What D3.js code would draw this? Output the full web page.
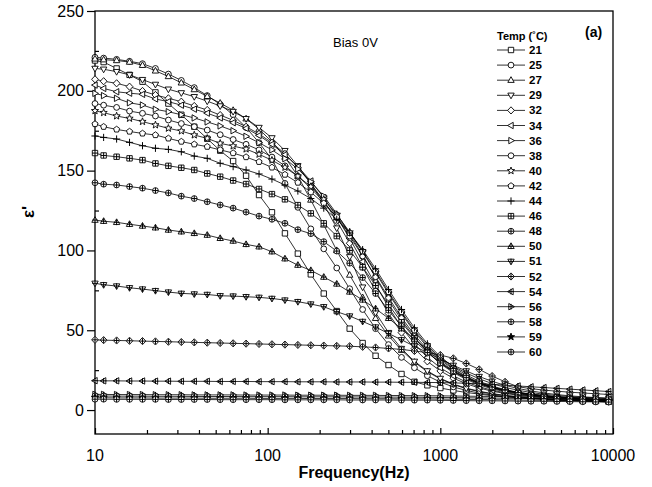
<!DOCTYPE html>
<html><head><meta charset="utf-8">
<script src="https://cdn.jsdelivr.net/npm/d3@7"></script>
<style>body{margin:0;background:#fff}svg{display:block}</style>
</head><body>
<svg id="c" width="652" height="487"></svg>
<script>
const freqs = [10, 11.22, 13.34, 15.85, 18.84, 22.39, 26.61, 31.62, 37.58, 44.67, 53.09, 63.10, 74.99, 89.13, 105.9, 125.9, 149.6, 177.8, 211.3, 251.2, 298.5, 354.8, 421.7, 501.2, 595.7, 707.9, 841.4, 1000, 1189, 1413, 1679, 1995, 2371, 2818, 3350, 3981, 4732, 5623, 6683, 7943, 9441];
const temps = ["21","25","27","29","32","34","36","38","40","42","44","46","48","50","51","52","54","56","58","59","60"];
const t21 = [219,218,214,210,205.7,199,192,185,177.5,170,162.5,156,146.8,134.7,123.9,110.7,98,85,73,62,51,42,34,28.2,22.6,17.7,15.5,13.8,12.3,11,10,9,8.3,7.7,7.2,6.8,6.4,6.1,5.8,5.5,5.2];
const t25 = [221,220.5,219.7,218.5,217,214,210.5,206.5,202,197,191.5,185,177,167.5,157,142,127,113.5,101,89,76,63,51,41,33,26.5,21.5,17.5,14.5,12.3,10.6,9.4,8.5,7.8,7.2,6.7,6.3,6,5.7,5.4,5.1];
const t27 = [220,219.5,219,218,216,212.5,209,205,200.8,196.5,192.3,187.8,182.5,176,168,158.5,146.5,131.6,116,100,84.6,70.5,57.5,46.5,37.5,30,24,19.5,16,13.4,11.5,10.1,9,8.2,7.5,7,6.5,6.1,5.8,5.5,5.2];
const t29 = [214,213.5,212,210,207,204,201,198.7,196.3,193.5,190.5,187,182.5,177,170.5,162.5,153,142,129,114,96,77,61,48.5,38.5,30.5,24.5,19.8,16.3,13.7,11.8,10.3,9.2,8.4,7.7,7.2,6.7,6.3,6,5.7,5.4];
const t32 = [207.2,206,204.7,202.6,199.9,197.4,195.3,193.2,190.5,188,184.8,181.5,177.5,173,167.5,160.5,152,142,131,118.5,104.5,89.5,74.5,60.5,48.5,38.5,30.5,24.5,20,16.5,13.8,11.8,10.4,9.3,8.5,7.8,7.3,6.8,6.4,6.1,5.8];
const t34 = [203.6,201.5,199.4,198.5,197.8,194.9,193.2,191,188.5,186,183,180,176.5,172,166.5,160,152.5,143.5,133,121,107.5,93,78.5,64.5,52,41.5,33,26.5,21.5,17.5,14.6,12.4,10.9,9.7,8.8,8.1,7.5,7,6.6,6.2,5.9];
const t36 = [198.4,197,195.3,192.5,191.1,188.4,186.9,185,183,180.5,178,175,171.5,167.5,163,157.5,151,143,134,123,110.5,97,83,69,56.5,45.5,36.5,29,23.5,19.2,15.8,13.3,11.5,10.2,9.1,8.3,7.7,7.2,6.7,6.3,6];
const t38 = [192,191,189.6,187.3,185.9,184.2,181.7,179.5,177.5,175.4,172.5,169.5,166.5,163,158.5,153,146.5,139,130.5,120.5,109,96.5,83.5,70.5,58,47,38,30.5,24.5,20,16.5,13.8,11.9,10.5,9.4,8.6,7.9,7.3,6.8,6.4,6];
const t40 = [187.5,186.3,184.2,182.7,180.7,178.6,176.5,174.8,172.3,170.2,167.1,165.4,163.5,160.2,156.5,152,146.5,140,132,122.5,111.5,99,86,73,60.5,49,39.5,31.5,25.5,20.5,17,14.2,12.2,10.7,9.6,8.7,8,7.4,6.9,6.5,6.1];
const t42 = [179.2,177.5,175.8,174.5,173.3,172.3,170.2,168.2,166.5,165,163,161,158.5,155.5,152,147.5,142.5,136.5,129.5,121,111,99.5,87,74,61.5,50,40.5,32.5,26,21,17.3,14.5,12.4,10.9,9.8,8.9,8.2,7.6,7.1,6.6,6.2];
const t44 = [171.7,170.8,169.8,167.7,165.6,164,163.3,161.8,159.1,157.7,154.6,152.5,150.4,147.9,144.7,141,137.2,132.5,126.5,119.5,111,100.5,88.5,75.5,63,51.5,41.5,33.5,27,22,18,15,12.8,11.2,10,9.1,8.4,7.8,7.3,6.8,6.4];
const t46 = [161,159.5,158.7,157.7,156.6,154.5,153,151.8,150.4,148.2,146.2,143.8,141.6,138.5,135.3,132,128.4,123.2,117,109,100,89.5,78,66,55,45,36.5,29.5,24,19.8,16.5,14,12.2,10.8,9.7,8.9,8.2,7.6,7.1,6.7,6.3];
const t48 = [142.4,141.5,141,140,139,137.5,136,134,132.5,130.5,128.5,126.5,124,121.5,119.5,117,113,110.5,105.5,99.6,92,83,73,62.5,52.5,43.5,36,29.5,24.5,20.3,17,14.4,12.5,11,9.9,9,8.3,7.7,7.2,6.8,6.4];
const t50 = [119,118.3,117.6,116.4,115.3,114.2,112.8,111.7,110.7,109.6,107.6,105.9,103.8,102.3,99.2,94.8,90.8,87.5,83.3,79,74,69,63.5,57.5,51,44.5,38,32.5,27.5,23.2,19.6,16.6,14.2,12.4,11,9.9,9.1,8.4,7.9,7.5,7.1];
const t51 = [79.4,78.5,77.7,76.6,75.8,74.8,73.9,73.1,72.7,72.4,71.6,71.4,71,70.6,69.9,68.9,67.9,66.4,64.7,61.6,58.9,55.5,52,48,44,40,36,32,28,24.5,21,18,15.5,13.5,12,10.7,9.7,8.9,8.3,7.8,7.3];
const t52 = [44,43.8,43.6,43.4,43.2,43,42.8,42.6,42.4,42.2,42,41.8,41.6,41.4,41.2,41,40.8,40.6,40.4,40.2,40,39.6,39.2,38.6,38,37,36,34.5,32.4,29.2,25.5,21.3,17.7,14.6,13.4,12.5,11.8,11.2,10.7,10.2,9.8];
const t54 = [18.4,18.3,18.3,18.2,18.2,18.1,18.1,18,18,18,17.9,17.9,17.9,17.8,17.8,17.8,17.7,17.7,17.7,17.6,17.6,17.6,17.5,17.5,17.4,17.4,17.3,17.2,17,16.8,16.5,16.1,15.6,15.1,14.6,14.1,13.6,13.1,12.6,12.1,11.6];
const t56 = [9.8,9.8,9.7,9.7,9.7,9.6,9.6,9.6,9.5,9.5,9.5,9.5,9.4,9.4,9.4,9.4,9.3,9.3,9.3,9.3,9.2,9.2,9.2,9.1,9.1,9.0,9.0,8.9,8.8,8.7,8.6,8.5,8.4,8.3,8.2,8.1,7.9,7.8,7.7,7.6,7.5];
const t58 = [8.8,8.8,8.7,8.7,8.7,8.6,8.6,8.6,8.5,8.5,8.5,8.5,8.4,8.4,8.4,8.4,8.3,8.3,8.3,8.3,8.2,8.2,8.2,8.1,8.1,8.0,8.0,7.9,7.8,7.7,7.6,7.5,7.4,7.3,7.2,7.1,7.0,6.9,6.8,6.7,6.6];
const t59 = [7.7,7.7,7.6,7.6,7.6,7.5,7.5,7.5,7.5,7.4,7.4,7.4,7.4,7.3,7.3,7.3,7.3,7.2,7.2,7.2,7.2,7.1,7.1,7.1,7.0,7.0,7.0,6.9,6.8,6.7,6.6,6.5,6.4,6.3,6.2,6.1,6.0,5.9,5.8,5.7,5.6];
const t60 = [6.8,6.8,6.7,6.7,6.7,6.7,6.6,6.6,6.6,6.6,6.5,6.5,6.5,6.5,6.5,6.4,6.4,6.4,6.4,6.4,6.3,6.3,6.3,6.3,6.2,6.2,6.2,6.1,6.0,5.9,5.8,5.8,5.7,5.6,5.5,5.5,5.4,5.3,5.2,5.1,5.0];
const seriesValues = [t21,t25,t27,t29,t32,t34,t36,t38,t40,t42,t44,t46,t48,t50,t51,t52,t54,t56,t58,t59,t60];
const markerTypes = ["square","circle","triUp","triDown","diamond","triLeft","triRight","circle","star","pentagon","plus","squarePlus","circlePlus","triUpPlus","triDownPlus","diamondPlus","triLeftPlus","triRightPlus","circlePlus","starFilled","circlePlus"];
const xTickLabels = [10, 100, 1000, 10000];
const yTickLabels = [0, 50, 100, 150, 200, 250];

const svg = d3.select("#c");
const FONT = "'Liberation Sans', Arial, Helvetica, sans-serif";
const x = d3.scaleLog().domain([10, 10000]).range([95, 613]);
const y = d3.scaleLinear().domain([-15, 250]).range([434, 11]);

// frame
svg.append("rect").attr("x",95).attr("y",11).attr("width",518).attr("height",423)
  .attr("fill","none").attr("stroke","#000").attr("stroke-width",1.3);

// x axis (ticks pointing inward)
const xMinor = [];
[10,100,1000].forEach(d=>{for(let k=2;k<=9;k++) xMinor.push(d*k);});
const gx = svg.append("g").attr("transform","translate(0,434)");
gx.append("g").call(d3.axisTop(x).tickValues(xTickLabels).tickSize(6).tickFormat(""))
  .call(g=>g.select(".domain").remove());
gx.append("g").call(d3.axisTop(x).tickValues(xMinor).tickSize(4).tickFormat(""))
  .call(g=>g.select(".domain").remove());
gx.selectAll("line").attr("stroke","#000").attr("stroke-width",1.2);
gx.append("g").selectAll("text").data(xTickLabels).join("text")
  .attr("x",d=>x(d)).attr("y",27).attr("text-anchor","middle").attr("fill","#000")
  .attr("font-family",FONT).attr("font-size",16).text(d=>d);

// y axis: major outward, minor inward
const gy = svg.append("g").attr("transform","translate(95,0)");
gy.append("g").call(d3.axisLeft(y).tickValues(yTickLabels).tickSize(8).tickPadding(3).tickFormat(d3.format("d")))
  .call(g=>g.select(".domain").remove());
gy.selectAll("text").attr("font-family",FONT).attr("font-size",16).attr("fill","#000");
gy.append("g").call(d3.axisRight(y).tickValues([25,75,125,175,225]).tickSize(4).tickFormat(""))
  .call(g=>g.select(".domain").remove());
gy.selectAll("line").attr("stroke","#000").attr("stroke-width",1.2);

// axis titles
svg.append("text").attr("x",354).attr("y",478).attr("text-anchor","middle").attr("fill","#000")
  .attr("font-family",FONT).attr("font-weight","bold").attr("font-size",16).text("Frequency(Hz)");
svg.append("text").attr("transform","translate(34,212) rotate(-90)").attr("text-anchor","middle").attr("fill","#000")
  .attr("font-family",FONT).attr("font-weight","bold").attr("font-size",17).text("ε'");

svg.append("text").attr("x",333).attr("y",47).attr("fill","#000").attr("font-family",FONT).attr("font-size",13).text("Bias 0V");
svg.append("text").attr("x",585).attr("y",37).attr("fill","#000").attr("font-family",FONT).attr("font-weight","bold").attr("font-size",14).text("(a)");

// marker geometry
function poly(n, r, rot){const p=[];for(let i=0;i<n;i++){const a=rot+i*2*Math.PI/n;p.push([r*Math.cos(a),r*Math.sin(a)]);}return "M"+p.map(q=>q[0].toFixed(2)+","+q[1].toFixed(2)).join("L")+"Z";}
function starPath(ro, ri){const p=[];for(let i=0;i<10;i++){const r=i%2?ri:ro;const a=-Math.PI/2+i*Math.PI/5;p.push([r*Math.cos(a),r*Math.sin(a)]);}return "M"+p.map(q=>q[0].toFixed(2)+","+q[1].toFixed(2)).join("L")+"Z";}
const shapes = {
  square: "M-2.7,-2.7H2.7V2.7H-2.7Z",
  triUp: "M0,-3.5L3.2,2.2L-3.2,2.2Z",
  triDown: "M0,3.5L3.2,-2.2L-3.2,-2.2Z",
  diamond: "M0,-3.6L3.4,0L0,3.6L-3.4,0Z",
  triLeft: "M-3.5,0L2.2,-3.2L2.2,3.2Z",
  triRight: "M3.5,0L-2.2,-3.2L-2.2,3.2Z",
  star: starPath(3.8,1.6),
  pentagon: poly(5,3.2,-Math.PI/2)
};
function drawMarker(g, type){
  const base = type.replace("Plus","").replace("Filled","");
  const plus = type.endsWith("Plus");
  if(type==="plus"){
    g.append("path").attr("d","M-3.6,0H3.6M0,-3.6V3.6").attr("stroke","#000").attr("stroke-width",1);
    return;
  }
  if(base==="circle"){
    g.append("circle").attr("r",2.9).attr("fill","#fff").attr("stroke","#000").attr("stroke-width",0.9);
  } else {
    g.append("path").attr("d",shapes[base]).attr("fill",type==="starFilled"?"#000":"#fff").attr("stroke","#000").attr("stroke-width",0.9);
  }
  if(plus){
    g.append("path").attr("d","M-2.8,0H2.8M0,-2.8V2.8").attr("stroke","#000").attr("stroke-width",1);
  }
}

// series
const line = d3.line().x((d,i)=>x(freqs[i])).y(d=>y(d));
seriesValues.forEach((vals, si)=>{
  const g = svg.append("g");
  g.append("path").attr("d", line(vals)).attr("fill","none").attr("stroke","#000").attr("stroke-width",0.8);
  vals.forEach((v,i)=>{
    const m = g.append("g").attr("transform",`translate(${x(freqs[i])},${y(v)})`);
    drawMarker(m, markerTypes[si]);
  });
});

// legend
const lg = svg.append("g");
lg.append("text").attr("x",497).attr("y",40).attr("fill","#000").attr("font-family",FONT).attr("font-weight","bold").attr("font-size",11).text("Temp (˚C)");
temps.forEach((t,i)=>{
  const yy = 50 + i*15.1;
  lg.append("line").attr("x1",497).attr("x2",525).attr("y1",yy).attr("y2",yy).attr("stroke","#000").attr("stroke-width",0.8);
  drawMarker(lg.append("g").attr("transform",`translate(511,${yy})`), markerTypes[i]);
  lg.append("text").attr("x",529).attr("y",yy+4).attr("fill","#000").attr("font-family",FONT).attr("font-weight","bold").attr("font-size",11.5).text(t);
});
</script>
</body></html>
